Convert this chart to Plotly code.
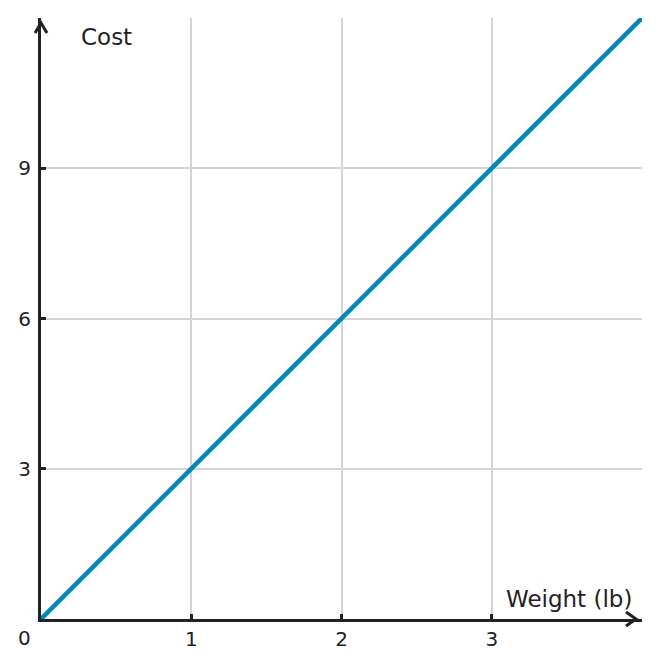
import plotly.graph_objects as go

# Data
weight = [0, 1, 2, 3, 4]
cost = [0, 3, 6, 9, 12]

x_ticks = [0, 1, 2, 3]
x_labels = ["", "1", "2", "3"]
y_ticks = [0, 3, 6, 9]
y_labels = ["", "3", "6", "9"]

ink = "#222222"
grid = "#d4d4d4"
font = "DejaVu Sans"

fig = go.Figure()

fig.add_trace(go.Scatter(
    x=weight,
    y=cost,
    mode="lines",
    line=dict(color="#0088b8", width=4.5),
    hoverinfo="skip",
    showlegend=False
))

# Arrow heads at the ends of the axes (pixel-sized, paper anchored so not clipped)
fig.add_shape(type="path", xref="paper", yref="paper",
              xsizemode="pixel", ysizemode="pixel", xanchor=1, yanchor=0,
              path="M -16,-7 L -6,0 L -16,7",
              line=dict(color=ink, width=3))
fig.add_shape(type="path", xref="paper", yref="paper",
              xsizemode="pixel", ysizemode="pixel", xanchor=0, yanchor=1,
              path="M -6,-15 L 0,-5 L 6,-15",
              line=dict(color=ink, width=3))

# Origin label and axis titles
fig.add_annotation(x=0, y=0, xref="x", yref="y", text="0", showarrow=False,
                   xshift=-17, yshift=-19, font=dict(family=font, size=20, color=ink))
fig.add_annotation(x=0, y=1, xref="x domain", yref="y domain", text="Cost",
                   showarrow=False, xanchor="left", yanchor="top", xshift=38, yshift=-4,
                   font=dict(family=font, size=23, color=ink))
fig.add_annotation(x=1, y=0, xref="x domain", yref="y", text="Weight (lb)",
                   showarrow=False, xanchor="right", yanchor="bottom", xshift=-8, yshift=5,
                   font=dict(family=font, size=23, color=ink))

fig.update_xaxes(
    range=[0, 4], tickvals=x_ticks, ticktext=x_labels,
    showgrid=True, gridcolor=grid, gridwidth=1.5, zeroline=False,
    showline=True, linecolor=ink, linewidth=3, automargin=False,
    ticks="inside", ticklen=5, tickwidth=3, tickcolor=ink,
    tickfont=dict(family=font, size=20, color=ink)
)
fig.update_yaxes(
    range=[0, 12], tickvals=y_ticks, ticktext=y_labels,
    showgrid=True, gridcolor=grid, gridwidth=1.5, zeroline=False,
    showline=True, linecolor=ink, linewidth=3, automargin=False,
    ticks="inside", ticklen=5, tickwidth=3, tickcolor=ink,
    ticklabelstandoff=3,
    tickfont=dict(family=font, size=20, color=ink)
)

# page body adds an 8px margin, so the figure is sized to fit inside it
fig.update_layout(
    width=645, height=652,
    margin=dict(l=33, r=11, t=10, b=41),
    plot_bgcolor="white",
    paper_bgcolor="white"
)

fig.write_html("out.html")
